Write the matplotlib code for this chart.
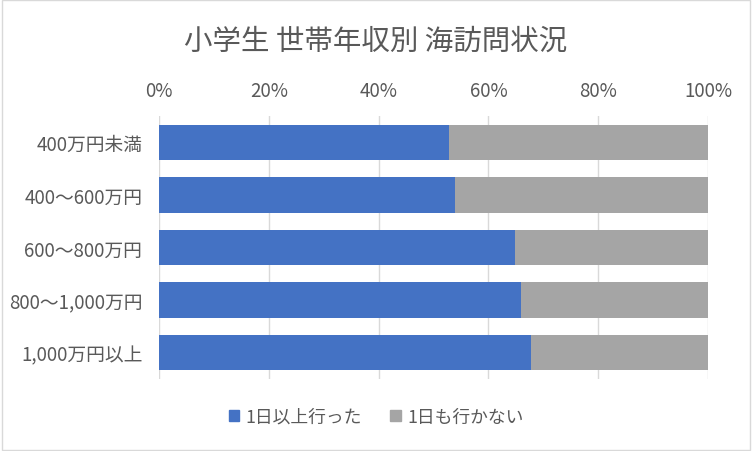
import matplotlib.pyplot as plt
import numpy as np
from matplotlib.patches import Patch

plt.rcParams["font.family"] = ["Noto Sans CJK JP", "DejaVu Sans"]

categories = ["400万円未満", "400～600万円", "600～800万円", "800～1,000万円", "1,000万円以上"]
went = [52.8, 53.9, 64.8, 65.9, 67.8]
not_went = [100 - v for v in went]
series_labels = ["1日以上行った", "1日も行かない"]
colors = ["#4472C4", "#A5A5A5"]
text_color = "#595959"

fig = plt.figure(figsize=(7.52, 4.52), dpi=100)
ax = fig.add_axes([159 / 752, 1 - 380 / 452, (708 - 159) / 752, (380 - 117) / 452])

y = np.arange(len(categories))
ax.barh(y, went, height=0.67, color=colors[0], zorder=3)
ax.barh(y, not_went, left=went, height=0.67, color=colors[1], zorder=3)

ax.set_ylim(len(categories) - 0.5, -0.5)
ax.set_yticks(y, categories)
ax.set_xlim(0, 100)
ax.set_xticks(np.arange(0, 101, 20), [f"{v}%" for v in range(0, 101, 20)])
ax.xaxis.tick_top()
ax.tick_params(axis="both", length=0, labelsize=13.5, colors=text_color)
ax.tick_params(axis="x", pad=11)
ax.tick_params(axis="y", pad=12)
ax.grid(axis="x", color="#D9D9D9", linewidth=1, zorder=0)
for s in ax.spines.values():
    s.set_visible(False)

fig.text(0.5, 1 - 42 / 452, "小学生 世帯年収別 海訪問状況", ha="center", va="center",
         fontsize=20.5, color=text_color)

handles = [Patch(color=c) for c in colors]
fig.legend(handles, series_labels, loc="center", bbox_to_anchor=(0.5, 1 - 418 / 452),
           ncol=2, frameon=False, fontsize=12.8, labelcolor=text_color,
           handlelength=0.6, handleheight=0.6, handletextpad=0.35, columnspacing=1.6)

fig.patches.append(plt.Rectangle((0.002, 0.002), 0.996, 0.996, transform=fig.transFigure,
                                 fill=False, edgecolor="#D9D9D9", linewidth=1))

fig.savefig("out.png", dpi=100)
